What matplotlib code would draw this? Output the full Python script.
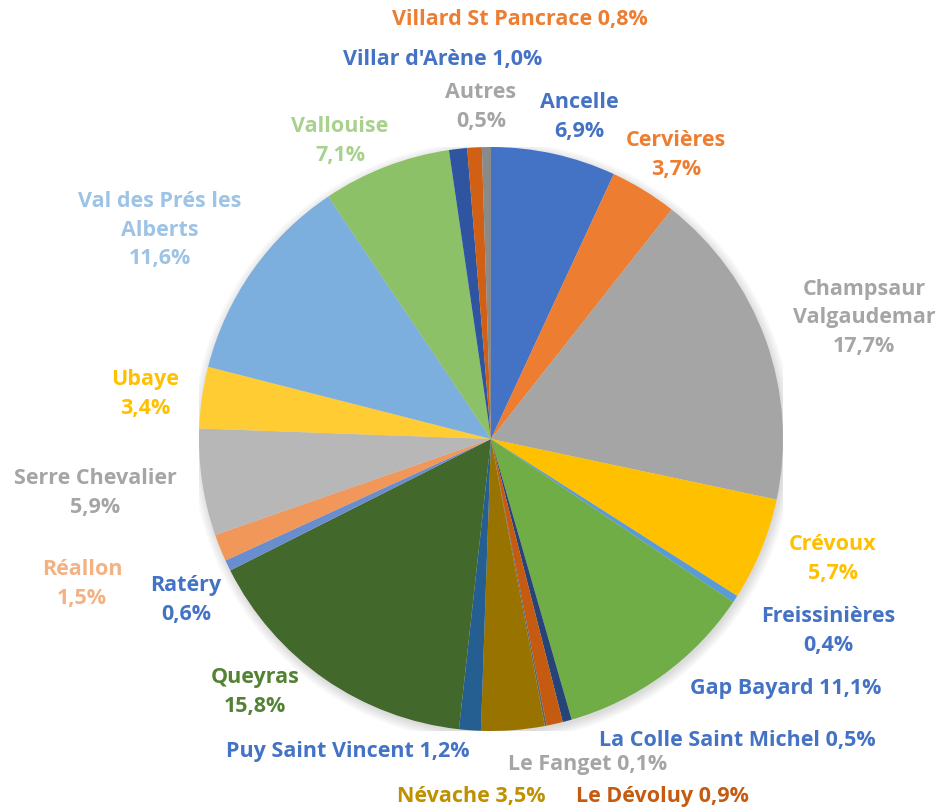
import matplotlib.pyplot as plt
from matplotlib.patches import Circle

# share of each site, clockwise from 12 o'clock
sites = ['Ancelle', 'Cervières', 'Champsaur\nValgaudemar', 'Crévoux', 'Freissinières',
         'Gap Bayard', 'La Colle Saint Michel', 'Le Dévoluy', 'Le Fanget', 'Névache',
         'Puy Saint Vincent', 'Queyras', 'Ratéry', 'Réallon', 'Serre Chevalier',
         'Ubaye', 'Val des Prés les\nAlberts', 'Vallouise', "Villar d'Arène",
         'Villard St Pancrace', 'Autres']
shares = [6.9, 3.7, 17.7, 5.7, 0.4, 11.1, 0.5, 0.9, 0.1, 3.5,
          1.2, 15.8, 0.6, 1.5, 5.9, 3.4, 11.6, 7.1, 1.0, 0.8, 0.5]

slice_colors = ['#4472C4', '#ED7D31', '#A5A5A5', '#FFC000', '#5B9BD5', '#70AD47',
                '#264478', '#C55A11', '#636363', '#997300', '#255E91', '#43682B',
                '#698ED0', '#F1975A', '#B7B7B7', '#FFCD33', '#7CAFDD', '#8CC168',
                '#2F55A0', '#D26014', '#8A8A8A']
label_colors = ['#4472C4', '#ED7D31', '#A5A5A5', '#FFC000', '#4472C4', '#4472C4',
                '#4472C4', '#C55A11', '#A5A5A5', '#BF9000', '#4472C4', '#548235',
                '#4472C4', '#F4B183', '#A5A5A5', '#FFC000', '#9DC3E6', '#A9D18E',
                '#4472C4', '#ED7D31', '#A5A5A5']
# whether the value goes on its own line
newline = [True, True, True, True, True, False, False, False, False, False,
           False, True, True, True, True, True, True, True, False, False, True]
# label centres in pixels (x, y from top)
label_pos = [(579, 117), (676, 155), (864, 318), (833, 559), (828, 631),
             (786, 689), (737, 741), (662, 797), (588, 765), (471, 797),
             (348, 752), (255, 692), (186, 600), (82, 584), (95, 493),
             (145, 394), (160, 230), (340, 141), (443, 60), (520, 20), (481, 107)]

W, H = 939, 812
fig = plt.figure(figsize=(W / 100, H / 100), dpi=100)
cx, cy, r = 491, 440, 292
ax = fig.add_axes([(cx - r) / W, 1 - (cy + r) / H, 2 * r / W, 2 * r / H])

# soft shadow
for k in range(6):
    ax.add_patch(Circle((0.005, -0.01), 1.0 + 0.006 * k, color='black', alpha=0.025, lw=0, zorder=0))

ax.pie(shares, colors=slice_colors, startangle=90, counterclock=False,
       wedgeprops=dict(linewidth=0))
ax.set_xlim(-1, 1)
ax.set_ylim(-1, 1)
ax.set_aspect('equal')
ax.axis('off')

for name, v, c, nl, (x, y) in zip(sites, shares, label_colors, newline, label_pos):
    val = f'{v:.1f}%'.replace('.', ',')
    txt = f'{name}\n{val}' if nl else f'{name} {val}'
    fig.text(x / W, 1 - y / H, txt, color=c, ha='center', va='center',
             fontsize=15.5, fontweight='bold', family='Open Sans', linespacing=1.46)

plt.savefig('out.png', dpi=100)
